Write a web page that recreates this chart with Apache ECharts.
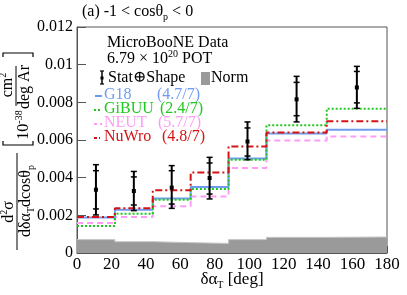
<!DOCTYPE html>
<html><head><meta charset="utf-8">
<script src="https://cdn.jsdelivr.net/npm/echarts@6/dist/echarts.min.js"></script>
<style>html,body{margin:0;padding:0;background:#fff}#c{width:407px;height:295px}</style>
</head><body><div id="c"></div>
<script>
const edges = [0,22,44,66,88,110,145,180];
const centers = [11,33,55,77,99,127.5,162.5];
const dataVal = [0.00336,0.00329,0.00347,0.00398,0.00592,0.00816,0.00879];
const totHigh = [0.00469,0.00433,0.00464,0.00508,0.00696,0.00938,0.00991];
const totLow  = [0.00202,0.00225,0.00237,0.00287,0.00495,0.00696,0.00768];
const statHigh= [0.00437,0.00404,0.00437,0.00478,0.00664,0.00906,0.00964];
const statLow = [0.00234,0.00255,0.00260,0.00313,0.00515,0.00729,0.00797];
const g18   = [0.00188,0.00230,0.00290,0.00350,0.00502,0.00634,0.00655];
const gibuu = [0.00143,0.00209,0.00283,0.00340,0.00495,0.00678,0.00766];
const neut  = [0.00159,0.00191,0.00248,0.00300,0.00451,0.00598,0.00619];
const nuwro = [0.00191,0.00237,0.00333,0.00428,0.00566,0.00640,0.00699];
const normBand = [0.00071,0.00060,0.00055,0.00051,0.00071,0.00083,0.00085];
const xTicks = [0,20,40,60,80,100,120,140,160,180];
const yTicks = [0,0.002,0.004,0.006,0.008,0.01,0.012];

const FONT = '"Liberation Serif", "DejaVu Serif", serif';
const C_G18 = '#6f9cf0', C_GIBUU = '#1ec81e', C_NEUT = '#ff9cf5', C_NUWRO = '#d41414';

function steps(vals){ return edges.map((e,i)=>[e, vals[Math.min(i, vals.length-1)]]); }

const errData = centers.map((c,i)=>[c, dataVal[i], totLow[i], totHigh[i], statLow[i], statHigh[i]]);

function stepSeries(name, vals, color, type, z){
  return {name, type:'line', step:'end', data:steps(vals), symbol:'none', z,
    lineStyle:{color, width:2, type}, silent:true, animation:false};
}

const rich = {
  sub:{fontFamily:FONT, fontSize:10, verticalAlign:'bottom', lineHeight:20},
  sup:{fontFamily:FONT, fontSize:10, verticalAlign:'top', lineHeight:20}
};
function richFor(color){
  return {sub:Object.assign({}, rich.sub, {fill:color}), sup:Object.assign({}, rich.sup, {fill:color})};
}
function txt(x, y, text, color, opts){
  return Object.assign({type:'text', x, y, style:Object.assign({text, fill:color||'#000', font:'16px '+FONT,
    verticalAlign:'middle', align:'left', rich:richFor(color||'#000')}, (opts&&opts.style)||{})}, (opts&&opts.el)||{});
}

const chart = echarts.init(document.getElementById('c'), null, {renderer:'canvas'});
chart.setOption({
  animation:false,
  backgroundColor:'#fff',
  grid:{left:77, right:20, top:27, bottom:42, show:true, borderColor:'#555', borderWidth:1, backgroundColor:'transparent'},
  xAxis:{type:'value', min:0, max:180, interval:20,
    axisLine:{lineStyle:{color:'#555'}}, splitLine:{show:false},
    axisTick:{inside:true, length:7, lineStyle:{color:'#555'}},
    axisLabel:{color:'#000', fontFamily:FONT, fontSize:17, margin:3,
      formatter:v=> xTicks.includes(v)? String(v) : ''}},
  yAxis:{type:'value', min:0, max:0.012, interval:0.002,
    axisLine:{show:true, lineStyle:{color:'#555'}}, splitLine:{show:false},
    axisTick:{show:true, inside:true, length:9, lineStyle:{color:'#555'}},
    axisLabel:{color:'#000', fontFamily:FONT, fontSize:16, margin:4,
      formatter:v=>{ const t = yTicks.find(k=>Math.abs(k-v)<1e-9); return t===undefined?'':(t===0?'0':String(+t.toFixed(3))); }}},
  series:[
    {name:'Norm', type:'line', step:'end', data:steps(normBand), symbol:'none', z:1,
      lineStyle:{color:'#c4c4c4', width:1}, areaStyle:{color:'#9a9a9a', opacity:1}},
    stepSeries('NEUT', neut, C_NEUT, [6,4], 2),
    stepSeries('GiBUU', gibuu, C_GIBUU, [2,2], 3),
    stepSeries('G18', g18, C_G18, 'solid', 2),
    stepSeries('NuWro', nuwro, C_NUWRO, [7,3,2,3], 4),
    {name:'Data', type:'custom', z:10, data:errData,
      renderItem:(params, api)=>{
        const x = api.value(0);
        const p = api.coord([x, api.value(1)]);
        const lo = api.coord([x, api.value(2)]);
        const hi = api.coord([x, api.value(3)]);
        const slo = api.coord([x, api.value(4)]);
        const shi = api.coord([x, api.value(5)]);
        const st = {stroke:'#000', lineWidth:2};
        const st1 = {stroke:'#000', lineWidth:1.5};
        const cw = 3;
        return {type:'group', children:[
          {type:'line', shape:{x1:p[0], y1:hi[1], x2:p[0], y2:lo[1]}, style:st},
          {type:'line', shape:{x1:p[0]-cw, y1:hi[1], x2:p[0]+cw, y2:hi[1]}, style:st1},
          {type:'line', shape:{x1:p[0]-cw, y1:lo[1], x2:p[0]+cw, y2:lo[1]}, style:st1},
          {type:'line', shape:{x1:p[0]-cw, y1:shi[1], x2:p[0]+cw, y2:shi[1]}, style:st1},
          {type:'line', shape:{x1:p[0]-cw, y1:slo[1], x2:p[0]+cw, y2:slo[1]}, style:st1},
          {type:'rect', shape:{x:p[0]-2, y:p[1]-2, width:4, height:4}, style:{fill:'#000'}}
        ]};
      }}
  ],
  graphic:[
    // title
    txt(82, 12, '(a) -1 < cosθ{sub|p} < 0', '#000'),
    // x-axis title
    txt(232, 280, 'δα{sub|T} [deg]', '#000', {style:{align:'center', font:'17px '+FONT}}),
    // legend block
    txt(107, 43, 'MicroBooNE Data', '#000'),
    txt(107, 59, '6.79 × 10{sup|20} POT', '#000'),
    {type:'line', shape:{x1:102, y1:71, x2:102, y2:84}, style:{stroke:'#000', lineWidth:1.5}},
    {type:'line', shape:{x1:100, y1:71, x2:104, y2:71}, style:{stroke:'#000', lineWidth:1.2}},
    {type:'line', shape:{x1:100, y1:84, x2:104, y2:84}, style:{stroke:'#000', lineWidth:1.2}},
    {type:'rect', shape:{x:100.5, y:76.5, width:3, height:3}, style:{fill:'#000'}},
    txt(108, 78, 'Stat⊕Shape', '#000'),
    {type:'rect', shape:{x:201, y:72, width:9, height:13}, style:{fill:'#9a9a9a'}},
    txt(211, 78, 'Norm', '#000'),
    {type:'line', shape:{x1:95, y1:96, x2:102, y2:96}, style:{stroke:C_G18, lineWidth:2}},
    txt(104, 95, 'G18', C_G18), txt(157, 95, '(4.7/7)', C_G18),
    {type:'line', shape:{x1:94, y1:110, x2:102, y2:110}, style:{stroke:C_GIBUU, lineWidth:2, lineDash:[2,2]}},
    txt(104, 109, 'GiBUU', C_GIBUU), txt(160, 109, '(2.4/7)', C_GIBUU),
    {type:'line', shape:{x1:94, y1:124, x2:102, y2:124}, style:{stroke:C_NEUT, lineWidth:2, lineDash:[3,3]}},
    txt(104, 123, 'NEUT', C_NEUT), txt(158, 123, '(5.7/7)', C_NEUT),
    {type:'line', shape:{x1:94, y1:138, x2:102, y2:138}, style:{stroke:C_NUWRO, lineWidth:2, lineDash:[3,2,1,2]}},
    txt(104, 137, 'NuWro', C_NUWRO), txt(162, 137, '(4.8/7)', C_NUWRO),
    // rotated y-axis title
    {type:'group', x:0, y:0, rotation:Math.PI/2, children:[
      {type:'text', x:-212, y:9, style:{text:'d{sup|2}σ', font:'16px '+FONT, fill:'#000', align:'center', verticalAlign:'middle', rich:richFor('#000')}},
      {type:'line', shape:{x1:-250, y1:17, x2:-153, y2:17}, style:{stroke:'#000', lineWidth:1}},
      {type:'text', x:-201, y:26, style:{text:'dδα{sub|T}dcosθ{sub|p}', font:'16px '+FONT, fill:'#000', align:'center', verticalAlign:'middle', rich:richFor('#000')}},
      {type:'polyline', shape:{points:[[-141,3],[-145,3],[-145,33],[-141,33]]}, style:{stroke:'#000', lineWidth:1.2, fill:null}},
      {type:'text', x:-125, y:24, style:{text:'10{sup|-38}', font:'16px '+FONT, fill:'#000', align:'center', verticalAlign:'middle', rich:richFor('#000')}},
      {type:'text', x:-85, y:8, style:{text:'cm{sup|2}', font:'16px '+FONT, fill:'#000', align:'center', verticalAlign:'middle', rich:richFor('#000')}},
      {type:'line', shape:{x1:-106, y1:16, x2:-66, y2:16}, style:{stroke:'#000', lineWidth:1}},
      {type:'text', x:-87, y:25, style:{text:'deg Ar', font:'16px '+FONT, fill:'#000', align:'center', verticalAlign:'middle', rich:richFor('#000')}},
      {type:'polyline', shape:{points:[[-57,3],[-53,3],[-53,33],[-57,33]]}, style:{stroke:'#000', lineWidth:1.2, fill:null}}
    ]}
  ]
});
</script></body></html>
